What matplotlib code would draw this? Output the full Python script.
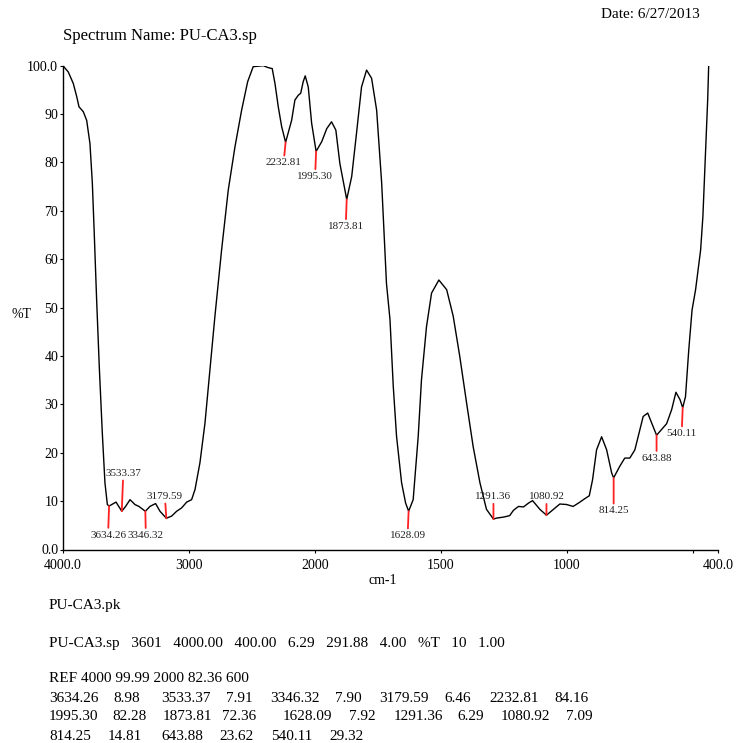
import numpy as np
import matplotlib
matplotlib.use("Agg")
import matplotlib.pyplot as plt

plt.rcParams['font.family'] = ['Liberation Serif', 'DejaVu Serif']

# ---- spectrum trace (wavenumber cm-1, %T) ----
wavenumber = [4000, 3958, 3918, 3891, 3873, 3839, 3812, 3786, 3767, 3752, 3733, 3712,
              3688, 3667, 3648, 3634.26, 3579, 3533.37, 3503, 3468, 3429, 3397, 3346.32,
              3310, 3265, 3230, 3179.59, 3138, 3098, 3058, 3018, 2979, 2952, 2913, 2873,
              2833, 2794, 2741, 2688, 2635, 2582, 2534, 2490, 2450, 2410, 2371, 2339,
              2317, 2291, 2264, 2232.81, 2185, 2159, 2132, 2113, 2093, 2077, 2053, 2026,
              1995.30, 1973, 1953, 1934, 1917, 1901, 1873.81, 1854, 1835, 1815, 1795,
              1775, 1755, 1735, 1716, 1702, 1689, 1676, 1656, 1640, 1628.09, 1610, 1590,
              1577, 1557, 1537, 1508, 1477, 1451, 1425, 1398, 1372, 1345, 1319, 1291.36,
              1278, 1251, 1227, 1212, 1192, 1172, 1152, 1136, 1107, 1080.92, 1053, 1028,
              1001, 975, 948, 929, 911, 898, 882, 862, 842, 822, 814.25, 790, 770, 750,
              730, 710, 697, 679, 663, 643.88, 624, 604, 584, 567, 551, 540.11, 529, 516,
              503, 489, 469, 460, 449, 441, 437]
transmittance = [100.0, 98.7, 96.3, 93.6, 91.5, 90.5, 88.7, 83.9, 75.7, 65.4, 51.6, 37.8,
                 24.1, 13.8, 9.3, 8.98, 9.8, 7.91, 8.9, 10.3, 9.3, 8.9, 7.90,
                 8.9, 9.5, 7.9, 6.46, 6.9, 7.9, 8.6, 9.8, 10.3, 12.4, 17.9, 26.1,
                 37.2, 48.2, 61.9, 74.3, 83.2, 90.8, 96.7, 99.8, 99.9, 100.0, 99.6, 99.4,
                 96.3, 91.5, 87.4, 84.16, 88.7, 92.9, 93.9, 94.3, 96.7, 97.9, 95.6, 88.1,
                 82.28, 84.3, 87.0, 88.4, 86.7, 79.8, 72.36, 77.1, 86.0, 95.6, 99.1,
                 97.4, 90.8, 75.7, 55.0, 47.5, 33.7, 23.4, 13.8, 9.6, 7.92, 10.3, 23.4,
                 35.1, 46.1, 53.0, 55.7, 53.7, 48.2, 39.9, 30.3, 21.3, 13.8, 8.3, 6.29,
                 6.5, 6.7, 7.0, 8.1, 8.9, 8.8, 9.6, 10.1, 8.3, 7.09, 8.3, 9.4,
                 9.3, 8.9, 9.8, 10.5, 11.1, 14.4, 20.6, 23.3, 20.6, 15.8, 14.81, 17.2, 18.9, 18.9,
                 20.6, 24.8, 27.5, 28.2, 26.1, 23.62, 24.8, 26.0, 28.9, 32.5, 31.0, 29.32, 31.6, 41.3,
                 49.5, 53.7, 61.9, 68.8, 82.6, 92.9, 100.0]
assert len(wavenumber) == len(transmittance)

# ---- picked peaks ----
peak_wn = [3634.26, 3533.37, 3346.32, 3179.59, 2232.81, 1995.30, 1873.81,
           1628.09, 1291.36, 1080.92, 814.25, 643.88, 540.11]
peak_T = [8.98, 7.91, 7.90, 6.46, 84.16, 82.28, 72.36, 7.92, 6.29, 7.09, 14.81, 23.62, 29.32]
# label offsets from the peak, in pixels
label_offset = [(-1, -29), (1.5, 38), (0.5, -24), (-1.5, 22), (-2, -20.5), (-1, -25),
                (-1, -27), (-1, -24.5), (0, 22.5), (0, 18.5), (0, -33), (0, -23), (-1, -26)]

x_ticks = [4000, 3000, 2000, 1500, 1000, 500, 400]
x_tick_labels = ['4000.0', '3000', '2000', '1500', '1000', '', '400.0']
y_ticks = [0, 10, 20, 30, 40, 50, 60, 70, 80, 90, 100]
y_tick_labels = ['0.0', '10', '20', '30', '40', '50', '60', '70', '80', '90', '100.0']

header_tokens = ['PU-CA3.sp', '3601', '4000.00', '400.00', '6.29', '291.88', '4.00', '%T', '10', '1.00']
ref_line = 'REF 4000 99.99 2000 82.36 600'

W, H = 737, 743
fig = plt.figure(figsize=(W / 100, H / 100), dpi=100)
ax = fig.add_axes([63 / W, 1 - 549.5 / H, 655 / W, (549.5 - 65.7) / H])


# abscissa: 1000 cm-1 per unit above 2000 cm-1, 500 cm-1 per unit below
def fwd(w):
    w = np.asarray(w, dtype=float)
    return np.where(w >= 2000, (w - 4000) / 1000.0, -2 - (2000 - w) / 500.0)


def inv(u):
    u = np.asarray(u, dtype=float)
    return np.where(u >= -2, 4000 + u * 1000.0, 2000 + (u + 2) * 500.0)


ax.set_xscale('function', functions=(fwd, inv))
ax.set_xlim(4000, 400)
ax.set_ylim(0, 100)

ax.plot(wavenumber, transmittance, color='black', lw=1.0, solid_joinstyle='round')

for wn, t, (dx, dy) in zip(peak_wn, peak_T, label_offset):
    ax.annotate(f'{wn:.2f}', xy=(wn, t), xytext=(dx, dy), textcoords='offset pixels',
                ha='center', va='center', fontsize=8, color='#222222',
                arrowprops=dict(arrowstyle='-', color='#ff2020', lw=1.3,
                                shrinkA=0, shrinkB=0))

for s in ['top', 'right']:
    ax.spines[s].set_visible(False)
for s in ['left', 'bottom']:
    ax.spines[s].set_linewidth(1.0)

ax.set_xticks(x_ticks)
ax.set_xticklabels(x_tick_labels)
ax.xaxis.set_minor_locator(matplotlib.ticker.NullLocator())
ax.set_yticks(y_ticks)
ax.set_yticklabels(y_tick_labels)
ax.tick_params(axis='x', direction='out', length=2.5, width=0.8, pad=4, labelsize=10)
ax.tick_params(axis='y', direction='out', length=2.5, width=0.8, pad=1, labelsize=10)


def put(x, y, s, **kw):
    fig.text(x / W, 1 - y / H, s, va='center', **kw)


put(700, 15, 'Date: 6/27/2013', ha='right', fontsize=11)
put(63, 36, 'Spectrum Name: PU-CA3.sp', ha='left', fontsize=12)
put(21, 315, '%T', ha='center', fontsize=10)
put(383, 581, 'cm-1', ha='center', fontsize=10)

put(49, 605, 'PU-CA3.pk', ha='left', fontsize=11)
put(49, 643, '   '.join(header_tokens), ha='left', fontsize=11)
put(49, 679, ref_line, ha='left', fontsize=11)

# peak table rows: x of the wavenumber column and of the %T column
row_y = [698, 717, 736]
row_wn_x = [[49, 161, 270, 379, 489], [49, 163, 283, 394, 501], [49, 161, 271]]
row_t_x = [[113, 226, 335, 444, 554], [112, 222, 349, 457, 566], [108, 219, 329]]
k = 0
for y, xs_w, xs_t in zip(row_y, row_wn_x, row_t_x):
    for xw, xt in zip(xs_w, xs_t):
        put(xw, y, f'{peak_wn[k]:.2f}', ha='left', fontsize=11)
        put(xt, y, f'{peak_T[k]:.2f}', ha='left', fontsize=11)
        k += 1

fig.savefig('out.png', dpi=100)
